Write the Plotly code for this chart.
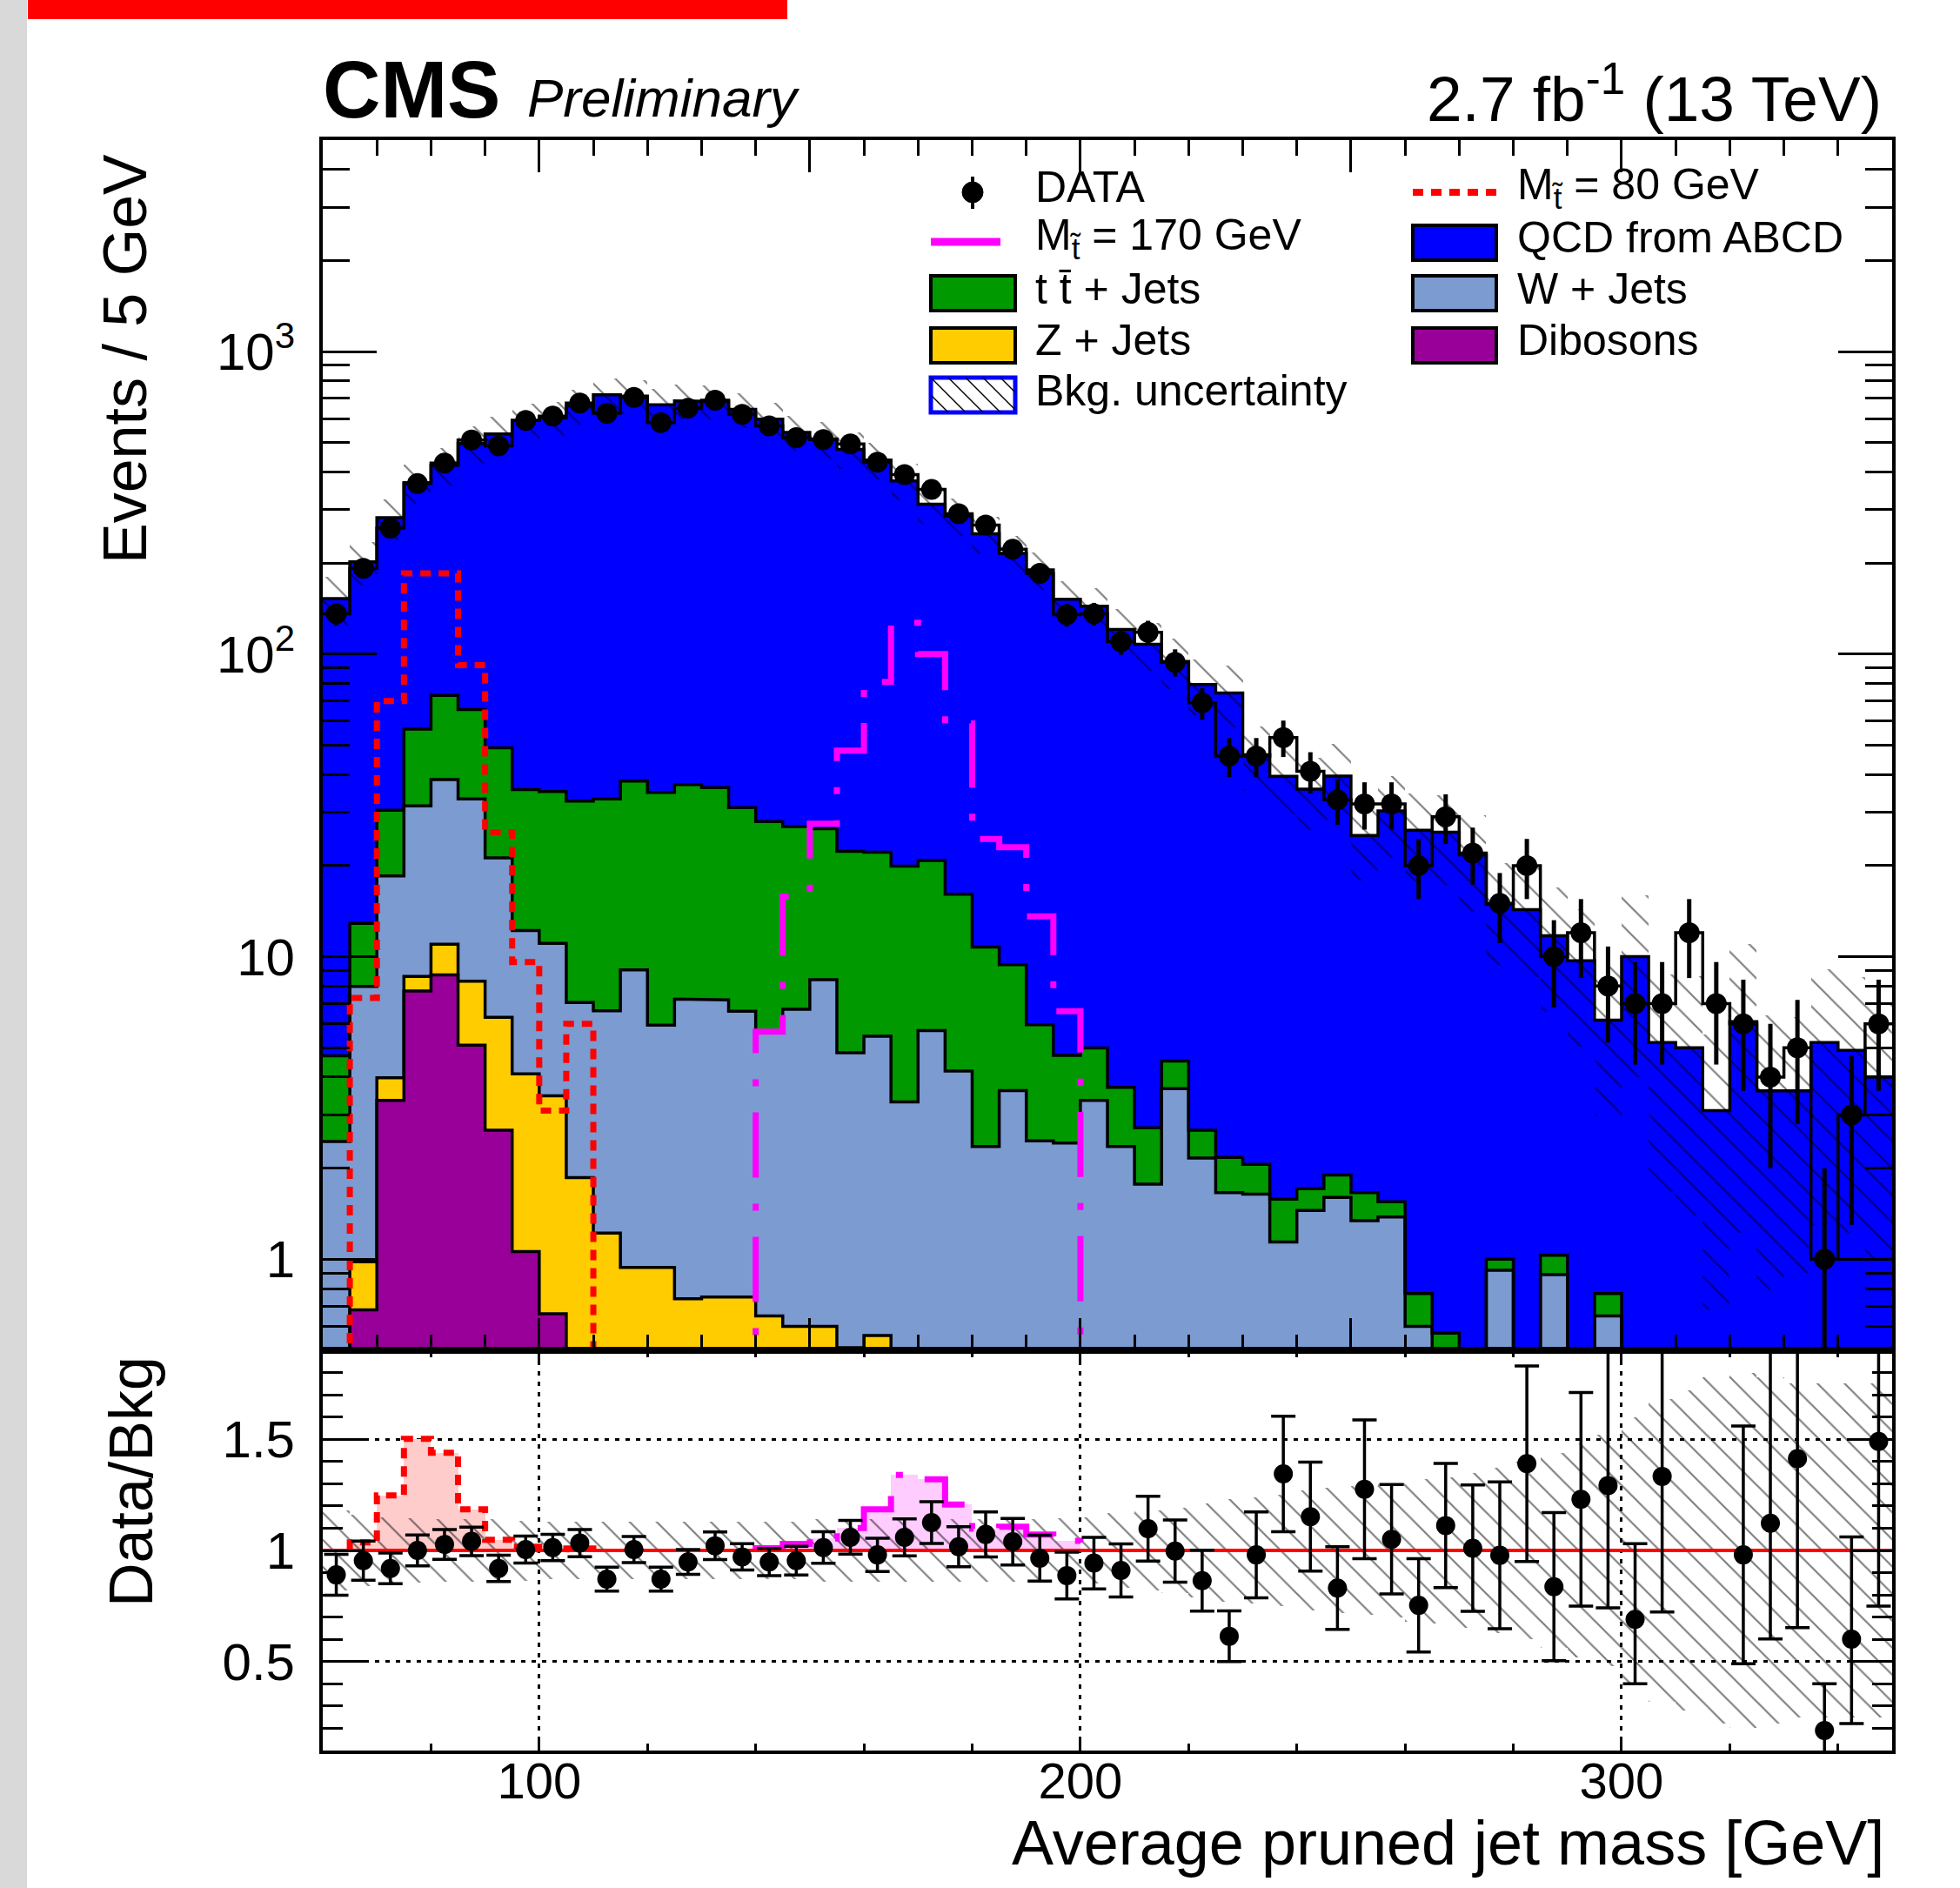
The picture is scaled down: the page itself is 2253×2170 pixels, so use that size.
import math
import plotly.graph_objects as go

# ---------------- values ----------------
BIN_W = 5
bin_low = list(range(60, 350, BIN_W))          # 58 bins, 60 .. 345

data_counts = [136, 192, 261, 366, 428, 510, 488, 592, 612, 676,
               625, 705, 582, 650, 690, 620, 568, 519, 512, 495,
               431, 392, 350, 291, 267, 222, 185, 135, 136, 110,
               118, 94, 69, 46, 46, 53, 41, 33, 32, 32,
               20, 29, 22, 15, 20, 10, 12, 8, 7, 7,
               12, 7, 6, 4, 5, 1, 3, 6]
data_err = [11.7, 13.9, 16.2, 19.1, 20.7, 22.6, 22.1, 24.3, 24.7, 26.0,
            25.0, 26.6, 24.1, 25.5, 26.3, 24.9, 23.8, 22.8, 22.6, 22.2,
            20.8, 19.8, 18.7, 17.1, 16.3, 14.9, 13.6, 11.6, 11.7, 10.5,
            10.9, 9.7, 8.3, 6.8, 6.8, 7.3, 6.4, 5.7, 5.7, 5.7,
            4.5, 5.4, 4.7, 3.9, 4.5, 3.2, 3.5, 2.8, 2.6, 2.6,
            3.5, 2.6, 2.4, 2.0, 2.2, 1.0, 1.7, 2.4]

qcd = [148, 189, 252, 312, 348, 431, 485, 556, 569, 628,
       686, 674, 632, 650, 648, 613, 570, 514, 488, 453,
       416, 354, 292, 270, 239, 206, 184, 147, 139, 117,
       105, 90, 76.7, 72.2, 44.4, 37.9, 34.1, 37.6, 23.5, 28.8,
       25.4, 25.2, 21.7, 13.9, 14.3, 10.7, 9.7, 5.4, 10.0, 5.2,
       5.0, 3.1, 6.1, 3.6, 3.6, 5.2, 4.9, 4.0]
ttbar = [2.25, 4.9, 12.0, 25.0, 34.5, 32.4, 27.8, 23.5, 24.1, 25.6,
         26.6, 29.0, 29.0, 29.8, 29.0, 24.5, 22.3, 20.2, 18.1, 17.5,
         16.7, 16.6, 15.1, 11.9, 8.4, 5.8, 3.5, 2.3, 1.64, 1.34,
         0.95, 0.86, 0.51, 0.51, 0.42, 0.44, 0.26, 0.30, 0.32, 0.17,
         0.17, 0.57, 0, 0.08, 0, 0.14, 0, 0.12, 0, 0,
         0, 0, 0, 0, 0, 0, 0, 0]
wjets = [2.45, 7.0, 14.5, 22.9, 27.5, 24.9, 14.9, 8.1, 7.6, 5.2,
         5.4, 8.1, 5.0, 6.5, 6.45, 5.85, 5.0, 6.1, 7.8, 4.3,
         4.9, 3.31, 5.7, 4.19, 2.36, 3.61, 2.46, 2.42, 3.35, 2.36,
         1.77, 3.66, 2.16, 1.66, 1.64, 1.14, 1.45, 1.60, 1.34, 1.38,
         0.60, 0, 0, 0.92, 0, 0.89, 0, 0.65, 0, 0,
         0, 0, 0, 0, 0, 0, 0, 0]
zjets = [0, 0.30, 0.63, 0.9, 2.3, 3.2, 3.63, 3.04, 2.81, 1.86,
         1.22, 0.94, 0.94, 0.74, 0.75, 0.75, 0.65, 0.60, 0.60, 0.51,
         0.56, 0, 0, 0, 0, 0, 0, 0, 0, 0,
         0, 0, 0, 0, 0, 0, 0, 0, 0, 0,
         0, 0, 0, 0, 0, 0, 0, 0, 0, 0,
         0, 0, 0, 0, 0, 0, 0, 0]
dibosons = [0, 0.68, 3.35, 7.7, 8.7, 5.1, 2.67, 1.06, 0.66, 0,
            0, 0, 0, 0, 0, 0, 0, 0, 0, 0,
            0, 0, 0, 0, 0, 0, 0, 0, 0, 0,
            0, 0, 0, 0, 0, 0, 0, 0, 0, 0,
            0, 0, 0, 0, 0, 0, 0, 0, 0, 0,
            0, 0, 0, 0, 0, 0, 0, 0]
sig_m80 = [0, 7.3, 70, 185, 185, 92, 25.8, 9.6, 3.1, 6.0,
           0, 0, 0, 0, 0, 0, 0, 0, 0, 0,
           0, 0, 0, 0, 0, 0, 0, 0, 0, 0,
           0, 0, 0, 0, 0, 0, 0, 0, 0, 0,
           0, 0, 0, 0, 0, 0, 0, 0, 0, 0,
           0, 0, 0, 0, 0, 0, 0, 0]
sig_m170 = [0, 0, 0, 0, 0, 0, 0, 0, 0, 0,
            0, 0, 0, 0, 0, 0, 5.65, 15.8, 27.5, 48,
            81, 127, 100, 59, 24.5, 23, 13.6, 6.6, 0, 0,
            0, 0, 0, 0, 0, 0, 0, 0, 0, 0,
            0, 0, 0, 0, 0, 0, 0, 0, 0, 0,
            0, 0, 0, 0, 0, 0, 0, 0]
bkg_rel_unc = [0.18, 0.16, 0.15, 0.145, 0.14, 0.14, 0.14, 0.135, 0.13, 0.13,
               0.13, 0.13, 0.13, 0.13, 0.13, 0.13, 0.13, 0.13, 0.14, 0.14,
               0.14, 0.14, 0.14, 0.14, 0.14, 0.14, 0.14, 0.145, 0.15, 0.17,
               0.18, 0.19, 0.21, 0.23, 0.24, 0.25, 0.27, 0.28, 0.29, 0.30,
               0.32, 0.33, 0.35, 0.37, 0.40, 0.44, 0.48, 0.52, 0.60, 0.68,
               0.72, 0.78, 0.80, 0.78, 0.75, 0.75, 0.75, 0.75]
ratio_vals = [0.890, 0.954, 0.919, 1.000, 1.027, 1.041, 0.919, 1.004, 1.013, 1.033,
              0.871, 1.004, 0.871, 0.948, 1.021, 0.971, 0.948, 0.954, 1.013, 1.059,
              0.980, 1.059, 1.125, 1.017, 1.072, 1.039, 0.965, 0.887, 0.943, 0.910,
              1.098, 0.997, 0.864, 0.614, 0.980, 1.344, 1.152, 0.831, 1.275, 1.050,
              0.753, 1.112, 1.010, 0.978, 1.390, 0.837, 1.230, 1.292, 0.690, 1.333,
              None, None, 0.980, 1.122, 1.413, 0.190, 0.601, 1.490]
ratio_err_up = [0.092, 0.088, 0.069, 0.069, 0.067, 0.064, 0.059, 0.061, 0.059, 0.061,
                0.054, 0.059, 0.054, 0.056, 0.062, 0.059, 0.061, 0.065, 0.071, 0.076,
                0.075, 0.083, 0.094, 0.090, 0.101, 0.105, 0.103, 0.105, 0.116, 0.119,
                0.146, 0.140, 0.137, 0.114, 0.193, 0.260, 0.245, 0.186, 0.312, 0.246,
                0.210, 0.279, 0.284, 0.330, 0.440, 0.333, 0.480, 0.600, 0.340, 0.800,
                0, 0, 0.580, 0.800, 0.800, 0.210, 0.460, 0.800]
ratio_err_dn = [0.092, 0.088, 0.069, 0.069, 0.067, 0.064, 0.059, 0.061, 0.059, 0.061,
                0.054, 0.059, 0.054, 0.056, 0.062, 0.059, 0.061, 0.065, 0.071, 0.076,
                0.075, 0.083, 0.094, 0.090, 0.101, 0.105, 0.103, 0.105, 0.116, 0.119,
                0.146, 0.140, 0.137, 0.114, 0.193, 0.260, 0.245, 0.186, 0.312, 0.246,
                0.210, 0.279, 0.284, 0.330, 0.440, 0.333, 0.480, 0.550, 0.290, 0.610,
                0, 0, 0.490, 0.520, 0.760, 0.190, 0.380, 0.740]

main_y_ticks = [1, 10, 100, 1000]
main_y_ticktext = ["1", "10", "10<sup>2</sup>", "10<sup>3</sup>"]
ratio_y_ticks = [0.5, 1, 1.5]
ratio_y_ticktext = ["0.5", "1", "1.5"]
x_ticks = [100, 200, 300]

# ---------------- styles ----------------
C_QCD, C_TT, C_W, C_Z, C_DIB = "#0000ff", "#009900", "#7b9bd1", "#ffcc00", "#990099"
C_S80, C_S170 = "#ff0000", "#ff00ff"
F_S80, F_S170 = "#ffcccc", "#ffccff"
FONT = "Liberation Sans"
DASH80 = "12px,9px"
DASH170 = "75px,30px,8px,30px"

W, H = 2253, 2170
ML, MR, MT, MB = 371, 78, 161, 158
PW, PH = W - ML - MR, H - MT - MB
SPLIT = 460 / PH


def px(x):
    return (x - ML) / PW


def py(y):
    return (H - MB - y) / PH


# ---------------- derived quantities ----------------
n = len(bin_low)
centers = [b + BIN_W / 2 for b in bin_low]
edges = bin_low + [bin_low[-1] + BIN_W]
cum_dib = list(dibosons)
cum_z = [a + b for a, b in zip(cum_dib, zjets)]
cum_w = [a + b for a, b in zip(cum_z, wjets)]
cum_tt = [a + b for a, b in zip(cum_w, ttbar)]
total = [a + b for a, b in zip(cum_tt, qcd)]
ratio80 = [1 + s / t for s, t in zip(sig_m80, total)]
ratio170 = [1 + s / t for s, t in zip(sig_m170, total)]

FLOOR = 0.01


def step_xy(vals, floor=None):
    xs, ys = [], []
    for i, v in enumerate(vals):
        if floor is not None:
            v = max(v, floor)
        xs += [edges[i], edges[i + 1]]
        ys += [v, v]
    return xs, ys


def step_xy_nonzero(vals, sig, base):
    idx = [i for i, s in enumerate(sig) if s > 0]
    i0, i1 = idx[0], idx[-1]
    xs, ys = [edges[i0]], [base]
    for i in range(i0, i1 + 1):
        xs += [edges[i], edges[i + 1]]
        ys += [vals[i], vals[i]]
    xs.append(edges[i1 + 1])
    ys.append(base)
    return xs, ys


fig = go.Figure()
hatch = dict(shape="\\", fgcolor="black", bgcolor="rgba(0,0,0,0)", size=22,
             solidity=0.1, fillmode="overlay")

# ---- main panel: stacked fills ----
for vals, col in [(total, C_QCD), (cum_tt, C_TT), (cum_w, C_W), (cum_z, C_Z), (cum_dib, C_DIB)]:
    fig.add_trace(go.Bar(x=centers, y=vals, width=BIN_W, marker=dict(color=col, line=dict(width=0)),
                         xaxis="x", yaxis="y", hoverinfo="skip"))
# background uncertainty band
fig.add_trace(go.Bar(x=centers, base=[t * (1 - r) for t, r in zip(total, bkg_rel_unc)],
                     y=[t * 2 * r for t, r in zip(total, bkg_rel_unc)], width=BIN_W,
                     marker=dict(color="rgba(0,0,0,0)", line=dict(width=0), pattern=hatch),
                     xaxis="x", yaxis="y", hoverinfo="skip"))
# outlines of stack components
for vals in [total, cum_tt, cum_w, cum_z, cum_dib]:
    xs, ys = step_xy(vals, FLOOR)
    fig.add_trace(go.Scatter(x=xs, y=ys, mode="lines", line=dict(color="black", width=3.5),
                             xaxis="x", yaxis="y", hoverinfo="skip"))
# data histogram outline
xs, ys = step_xy(data_counts)
fig.add_trace(go.Scatter(x=xs, y=ys, mode="lines", line=dict(color="black", width=3.5),
                         xaxis="x", yaxis="y", hoverinfo="skip"))
# signals
xs, ys = step_xy(sig_m80, FLOOR)
fig.add_trace(go.Scatter(x=xs, y=ys, mode="lines", line=dict(color=C_S80, width=7, dash=DASH80),
                         xaxis="x", yaxis="y", hoverinfo="skip"))
xs, ys = step_xy(sig_m170, FLOOR)
fig.add_trace(go.Scatter(x=xs, y=ys, mode="lines", line=dict(color=C_S170, width=7, dash=DASH170),
                         xaxis="x", yaxis="y", hoverinfo="skip"))
# data points
fig.add_trace(go.Scatter(x=centers, y=data_counts, mode="markers",
                         marker=dict(color="black", size=24),
                         error_y=dict(type="data", symmetric=False, array=data_err,
                                      arrayminus=[min(e, d * 0.98) for e, d in zip(data_err, data_counts)],
                                      thickness=5, width=0, color="black"),
                         xaxis="x", yaxis="y", hoverinfo="skip"))

# ---- ratio panel ----
fig.add_trace(go.Bar(x=centers, base=[1] * n, y=[r - 1 for r in ratio80], width=BIN_W,
                     marker=dict(color=F_S80, line=dict(width=0)), xaxis="x2", yaxis="y2", hoverinfo="skip"))
fig.add_trace(go.Bar(x=centers, base=[1] * n, y=[r - 1 for r in ratio170], width=BIN_W,
                     marker=dict(color=F_S170, line=dict(width=0)), xaxis="x2", yaxis="y2", hoverinfo="skip"))
fig.add_trace(go.Bar(x=centers, base=[1 - r for r in bkg_rel_unc], y=[2 * r for r in bkg_rel_unc],
                     width=BIN_W, marker=dict(color="rgba(0,0,0,0)", line=dict(width=0), pattern=hatch),
                     xaxis="x2", yaxis="y2", hoverinfo="skip"))
xs, ys = step_xy_nonzero(ratio80, sig_m80, 1)
fig.add_trace(go.Scatter(x=xs, y=ys, mode="lines", line=dict(color=C_S80, width=7, dash=DASH80),
                         xaxis="x2", yaxis="y2", hoverinfo="skip"))
xs, ys = step_xy_nonzero(ratio170, sig_m170, 1)
fig.add_trace(go.Scatter(x=xs, y=ys, mode="lines", line=dict(color=C_S170, width=7, dash=DASH170),
                         xaxis="x2", yaxis="y2", hoverinfo="skip"))
fig.add_trace(go.Scatter(x=[edges[0], edges[-1]], y=[1, 1], mode="lines", line=dict(color="#ff0000", width=4),
                         xaxis="x2", yaxis="y2", hoverinfo="skip"))
fig.add_trace(go.Scatter(x=centers, y=ratio_vals, mode="markers", marker=dict(color="black", size=22),
                         error_y=dict(type="data", symmetric=False, array=ratio_err_up,
                                      arrayminus=ratio_err_dn, thickness=3.5, width=14, color="black"),
                         xaxis="x2", yaxis="y2", hoverinfo="skip"))

# ---------------- axes ----------------
minor_log = [m * 10 ** e for e in range(-1, 4) for m in range(2, 10) if 0.5 <= m * 10 ** e <= 5000]
tickfont = dict(family=FONT, size=60, color="black")
axis_common = dict(showline=True, linecolor="black", linewidth=4, mirror="ticks", ticks="inside",
                   tickcolor="black", zeroline=False, range=[60, 350])

fig.update_layout(
    width=W, height=H, margin=dict(l=ML, r=MR, t=MT, b=MB, pad=0),
    paper_bgcolor="white", plot_bgcolor="white", showlegend=False,
    barmode="overlay", bargap=0, font=dict(family=FONT, color="black"),
    xaxis=dict(**axis_common, domain=[0, 1], anchor="y", matches="x2", showticklabels=False,
               tickvals=[100, 150, 200, 250, 300], ticklen=37, tickwidth=3, showgrid=False,
               minor=dict(tickvals=list(range(70, 350, 10)), ticklen=18, tickwidth=3, ticks="inside",
                          tickcolor="black")),
    yaxis=dict(type="log", domain=[SPLIT, 1], anchor="x", range=[math.log10(0.5), math.log10(5000)],
               showline=True, linecolor="black", linewidth=4, mirror="ticks", ticks="inside",
               tickcolor="black", ticklen=62, tickwidth=3, zeroline=False, showgrid=False,
               tickvals=main_y_ticks, ticktext=main_y_ticktext, tickfont=tickfont, ticklabelstandoff=16,
               minor=dict(tickvals=minor_log, ticklen=31, tickwidth=3, ticks="inside", tickcolor="black")),
    xaxis2=dict(**axis_common, domain=[0, 1], anchor="y2", tickvals=x_ticks, ticklen=16, tickwidth=3,
                tickfont=dict(family=FONT, size=58, color="black"), ticklabelstandoff=-19,
                showgrid=True, gridcolor="black", gridwidth=3, griddash="5px,7px",
                minor=dict(tickvals=list(range(80, 350, 20)), ticklen=8, tickwidth=3, ticks="inside",
                           tickcolor="black")),
    yaxis2=dict(domain=[0, SPLIT], anchor="x2", range=[0.1, 1.9], showline=True, linecolor="black",
                linewidth=4, mirror="ticks", ticks="inside", tickcolor="black", ticklen=48, tickwidth=3,
                zeroline=False, tickvals=ratio_y_ticks, ticktext=ratio_y_ticktext, tickfont=tickfont,
                ticklabelstandoff=16, showgrid=True, gridcolor="black", gridwidth=3, griddash="5px,7px",
                minor=dict(tickvals=[v / 10 for v in range(2, 19) if v not in (5, 10, 15)], ticklen=23,
                           tickwidth=3, ticks="inside", tickcolor="black")),
)

# ---------------- titles / header ----------------
ann = []
ann.append(dict(text="<b>CMS</b>", x=px(369), y=py(103), xanchor="left", yanchor="middle",
                font=dict(family=FONT, size=92, color="black")))
ann.append(dict(text="<i>Preliminary</i>", x=px(604), y=py(113), xanchor="left", yanchor="middle",
                font=dict(family=FONT, size=62, color="black")))
ann.append(dict(text="2.7 fb<sup>-1</sup> (13 TeV)", x=px(2165), y=py(108), xanchor="right",
                yanchor="middle", font=dict(family=FONT, size=73, color="black")))
ann.append(dict(text="Events / 5 GeV", x=px(144), y=py(413), xanchor="center", yanchor="middle",
                textangle=-90, font=dict(family=FONT, size=70, color="black")))
ann.append(dict(text="Data/Bkg", x=px(151), y=py(1703), xanchor="center", yanchor="middle",
                textangle=-90, font=dict(family=FONT, size=70, color="black")))
ann.append(dict(text="Average pruned jet mass [GeV]", x=px(2168), y=py(2118), xanchor="right",
                yanchor="middle", font=dict(family=FONT, size=72, color="black")))

# ---------------- legend (drawn manually) ----------------
shapes = []
# page decorations of the screenshot
shapes.append(dict(type="rect", xref="paper", yref="paper", x0=px(0), x1=px(31), y0=py(H), y1=py(0),
                   fillcolor="#d9d9d9", line=dict(width=0), layer="below"))
shapes.append(dict(type="rect", xref="paper", yref="paper", x0=px(32), x1=px(905), y0=py(22), y1=py(0),
                   fillcolor="#ff0000", line=dict(width=0), layer="below"))

LEG_FONT = dict(family=FONT, size=50, color="black")
text_rows = [215, 273, 332, 391, 449]
box_rows = [221, 279, 337, 397, 454]
c1_box, c2_box = (1070, 1167), (1624, 1720)
c1_txt, c2_txt = 1188, 1742
BOX_H = 40


def leg_box(col, row, color, outline="black", lw=4):
    x0, x1 = col
    yc = box_rows[row]
    shapes.append(dict(type="rect", xref="paper", yref="paper", x0=px(x0), x1=px(x1),
                       y0=py(yc + BOX_H / 2), y1=py(yc - BOX_H / 2), fillcolor=color,
                       line=dict(color=outline, width=lw)))


def leg_text(xpos, row, txt):
    ann.append(dict(text=txt, x=px(xpos), y=py(text_rows[row]), xanchor="left", yanchor="middle",
                    font=LEG_FONT))


# DATA
shapes.append(dict(type="line", xref="paper", yref="paper", x0=px(1118), x1=px(1118), y0=py(240), y1=py(203),
                   line=dict(color="black", width=4)))
shapes.append(dict(type="circle", xref="paper", yref="paper", x0=px(1106), x1=px(1130), y0=py(233), y1=py(209),
                   fillcolor="black", line=dict(color="black", width=1)))
leg_text(c1_txt, 0, "DATA")
# signal 80
shapes.append(dict(type="line", xref="paper", yref="paper", x0=px(1624), x1=px(1720), y0=py(221), y1=py(221),
                   line=dict(color=C_S80, width=8, dash=DASH80)))
leg_text(c2_txt, 0, "M<sub>t\u0303</sub> = 80 GeV")
# signal 170
shapes.append(dict(type="line", xref="paper", yref="paper", x0=px(1070), x1=px(1150), y0=py(278), y1=py(278),
                   line=dict(color=C_S170, width=9)))
leg_text(c1_txt, 1, "M<sub>t\u0303</sub> = 170 GeV")
leg_box(c2_box, 1, C_QCD)
leg_text(c2_txt, 1, "QCD from ABCD")
leg_box(c1_box, 2, C_TT)
leg_text(c1_txt, 2, "t t\u0304 + Jets")
leg_box(c2_box, 2, C_W)
leg_text(c2_txt, 2, "W + Jets")
leg_box(c1_box, 3, C_Z)
leg_text(c1_txt, 3, "Z + Jets")
leg_box(c2_box, 3, C_DIB)
leg_text(c2_txt, 3, "Dibosons")
# background uncertainty legend box with hatching
leg_box(c1_box, 4, "white", outline="#0000ff", lw=5)
bx0, bx1 = c1_box
by0, by1 = box_rows[4] - BOX_H / 2, box_rows[4] + BOX_H / 2
hh = by1 - by0
a = bx0 - hh
while a < bx1:
    t0, t1 = max(0, bx0 - a), min(hh, bx1 - a)
    if t1 > t0:
        shapes.append(dict(type="line", xref="paper", yref="paper", x0=px(a + t0), y0=py(by0 + t0),
                           x1=px(a + t1), y1=py(by0 + t1), line=dict(color="black", width=1.5)))
    a += 20
leg_text(c1_txt, 4, "Bkg. uncertainty")

fig.update_layout(annotations=[dict(xref="paper", yref="paper", showarrow=False, **a_) for a_ in ann],
                  shapes=shapes)

fig.write_html("out.html")
